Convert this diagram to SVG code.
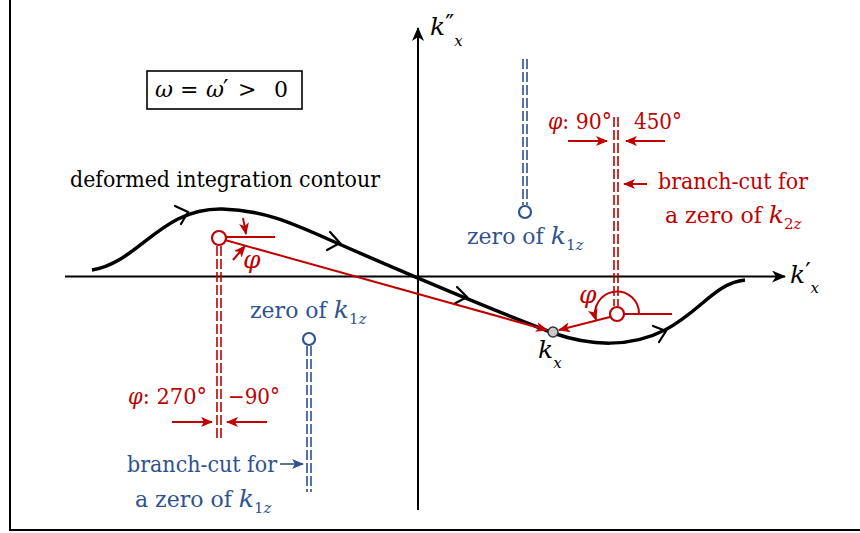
<svg xmlns="http://www.w3.org/2000/svg" width="860" height="533" viewBox="0 0 860 533">
<style>
text{font-family:"DejaVu Serif",serif;font-size:22px}
.r{fill:#C00000}
.b{fill:#2F528F}
.k{fill:#000}
.i{font-style:italic}
.s{font-size:15px}
.big{font-size:25px}
.pr{font-size:24px}
.rl{stroke:#C00000;fill:none;stroke-width:2}
.bl{stroke:#2F528F;fill:none;stroke-width:1.6}
.rd{stroke:#C00000;fill:none;stroke-width:1.6;stroke-dasharray:10 3}
.bd{stroke:#2F528F;fill:none;stroke-width:1.6;stroke-dasharray:10 3}
.chev{stroke:#000;fill:none;stroke-width:2.2;stroke-linecap:round;stroke-linejoin:miter}
</style>
<defs>
<marker id="ak" viewBox="0 0 14 12" refX="13" refY="6" markerWidth="14" markerHeight="12" markerUnits="userSpaceOnUse" orient="auto"><path d="M0,0 L14,6 L0,12 L4,6 z" fill="#000"/></marker>
<marker id="ar" viewBox="0 0 12 10" refX="11" refY="5" markerWidth="12" markerHeight="10" markerUnits="userSpaceOnUse" orient="auto"><path d="M0,0 L12,5 L0,10 L3,5 z" fill="#C00000"/></marker>
<marker id="ab" viewBox="0 0 12 10" refX="11" refY="5" markerWidth="12" markerHeight="10" markerUnits="userSpaceOnUse" orient="auto"><path d="M0,0 L12,5 L0,10 L3,5 z" fill="#2F528F"/></marker>
</defs>
<rect width="860" height="533" fill="#fff"/>
<g id="frame">
<path d="M10,0 V530 H860" fill="none" stroke="#000" stroke-width="2"/>
</g>
<g id="axes">
<line x1="65" y1="276.5" x2="785" y2="276.5" stroke="#000" stroke-width="2" marker-end="url(#ak)"/>
<line x1="418" y1="510" x2="418" y2="28" stroke="#000" stroke-width="2" marker-end="url(#ak)"/>
<text x="430" y="35" class="k"><tspan class="i big">k</tspan><tspan class="pr" dy="-3">″</tspan><tspan class="s i" dy="14">x</tspan></text>
<text x="790" y="283" class="k"><tspan class="i big">k</tspan><tspan class="pr" dy="-3">′</tspan><tspan class="s i" dy="13">x</tspan></text>
</g>
<g id="condition">
<rect x="147" y="71" width="155" height="38" fill="none" stroke="#000" stroke-width="1.6"/>
<text y="97" class="k"><tspan x="155" class="i">ω</tspan><tspan x="180">=</tspan><tspan x="206" class="i">ω</tspan><tspan x="223" class="pr">′</tspan><tspan x="238">&gt;</tspan><tspan x="274">0</tspan></text>
</g>
<g id="contour">
<path d="M92,270 C140,262 160,208 222,209 C262,210 290,222 330,240 C380,262 480,305 553,333 C590,346 630,348 665,330 C700,312 715,283 745,280" fill="none" stroke="#000" stroke-width="3.5"/>
<path class="chev" d="M175,206 L188,212 L181,224"/>
<path class="chev" d="M330,232 L340,243 L327,250"/>
<path class="chev" d="M457,287 L467,297 L454,304"/>
<path class="chev" d="M653,326 L666,331 L659,342"/>
<text x="70" y="187" class="k" textLength="310" lengthAdjust="spacingAndGlyphs">deformed integration contour</text>
</g>
<g id="pole-left">
<line class="rd" x1="217" y1="246" x2="217" y2="440"/>
<line class="rd" x1="221" y1="246" x2="221" y2="440"/>
<line class="rl" x1="226" y1="237" x2="275" y2="237"/>
<circle cx="219" cy="238" r="7" fill="#fff" stroke="#C00000" stroke-width="2.2"/>
<text x="243" y="268" class="r i big">φ</text>
<text x="128" y="404" class="r" textLength="79" lengthAdjust="spacingAndGlyphs"><tspan class="i">φ</tspan>: 270°</text>
<text x="228" y="404" class="r" textLength="52" lengthAdjust="spacingAndGlyphs">−90°</text>
</g>
<g id="pole-right">
<line class="rd" x1="614" y1="117" x2="614" y2="306"/>
<line class="rd" x1="618" y1="117" x2="618" y2="306"/>
<line class="rl" x1="624" y1="314" x2="672" y2="314"/>
<circle cx="617" cy="314" r="7" fill="#fff" stroke="#C00000" stroke-width="2.2"/>
<text x="579" y="303" class="r i big">φ</text>
<text x="548" y="129" class="r" textLength="64" lengthAdjust="spacingAndGlyphs"><tspan class="i">φ</tspan>: 90°</text>
<text x="634" y="129" class="r" textLength="48" lengthAdjust="spacingAndGlyphs">450°</text>
<text x="658" y="189" class="r" textLength="150" lengthAdjust="spacingAndGlyphs">branch-cut for</text>
<text x="665" y="223" class="r">a zero of <tspan class="i big">k</tspan><tspan class="s" dy="6">2</tspan><tspan class="s i">z</tspan></text>
</g>
<g id="zero-upper">
<line class="bd" x1="523" y1="59" x2="523" y2="205"/>
<line class="bd" x1="527" y1="59" x2="527" y2="205"/>
<circle cx="525" cy="212" r="6" fill="#fff" stroke="#2F528F" stroke-width="2.2"/>
<text x="467" y="244" class="b">zero of <tspan class="i big">k</tspan><tspan class="s" dy="6">1</tspan><tspan class="s i">z</tspan></text>
</g>
<g id="zero-lower">
<line class="bd" x1="307" y1="346" x2="307" y2="492"/>
<line class="bd" x1="311" y1="346" x2="311" y2="492"/>
<circle cx="309" cy="339" r="6" fill="#fff" stroke="#2F528F" stroke-width="2.2"/>
<text x="250" y="318" class="b">zero of <tspan class="i big">k</tspan><tspan class="s" dy="6">1</tspan><tspan class="s i">z</tspan></text>
<text x="127" y="472" class="b" textLength="150" lengthAdjust="spacingAndGlyphs">branch-cut for</text>
<text x="135" y="507" class="b">a zero of <tspan class="i big">k</tspan><tspan class="s" dy="6">1</tspan><tspan class="s i">z</tspan></text>
</g>
<g id="kx">
<circle cx="553" cy="332" r="5" fill="#c8c8c8" stroke="#333" stroke-width="1.5"/>
<text x="538" y="358" class="k"><tspan class="i big">k</tspan><tspan class="s i" dy="10">x</tspan></text>
</g>
<g id="connectors">
<line class="rl" x1="225" y1="240" x2="547" y2="330" marker-end="url(#ar)"/>
<line class="rl" x1="610" y1="317" x2="559" y2="330" marker-end="url(#ar)"/>
<path class="rl" d="M639,314 A22,22 0 1 0 596,320" marker-end="url(#ar)"/>
<line class="rl" x1="243" y1="218" x2="246" y2="234" marker-end="url(#ar)"/>
<line class="rl" x1="233" y1="260" x2="245" y2="246" marker-end="url(#ar)"/>
<line class="rl" x1="568" y1="141" x2="607" y2="141" marker-end="url(#ar)"/>
<line class="rl" x1="665" y1="141" x2="626" y2="141" marker-end="url(#ar)"/>
<line class="rl" x1="647" y1="184" x2="624" y2="184" marker-end="url(#ar)"/>
<line class="rl" x1="172" y1="422" x2="212" y2="422" marker-end="url(#ar)"/>
<line class="rl" x1="267" y1="422" x2="227" y2="422" marker-end="url(#ar)"/>
<line class="bl" x1="280" y1="464" x2="303" y2="464" marker-end="url(#ab)"/>
</g>
</svg>
